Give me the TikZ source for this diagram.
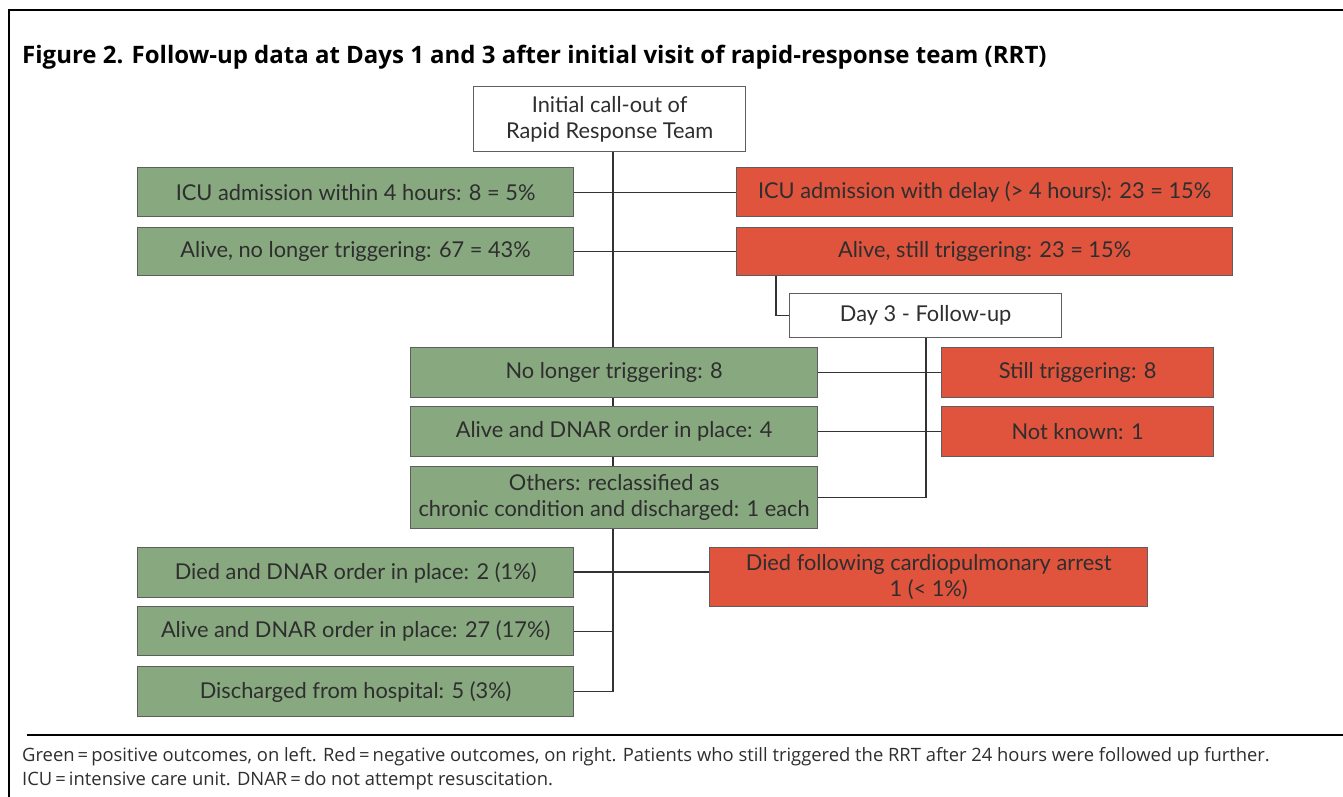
\documentclass[tikz,border=0pt]{standalone}
\usepackage{fontspec}
\setmainfont{Lato}
\newfontfamily\titlefont{Open Sans}
\newfontfamily\capfont{Open Sans}
\usetikzlibrary{backgrounds}
\definecolor{grn}{HTML}{88A880}
\definecolor{rd}{HTML}{E0533D}
\definecolor{bordergray}{HTML}{5E5E5E}
\definecolor{txt}{HTML}{2E2E2E}
\definecolor{ln}{HTML}{333333}
\tikzset{
  box/.style={draw=bordergray, line width=1.3pt, inner sep=0pt, anchor=north west,
    text=txt, align=center, font=\fontsize{21.8}{26}\selectfont},
  gbox/.style={box, fill=grn},
  rbox/.style={box, fill=rd},
  wbox/.style={box, fill=white},
  conn/.style={draw=ln, line width=1.3pt},
  spine/.style={draw=ln, line width=2pt},
  frame/.style={draw=black, line width=2.5pt}
}
\begin{document}
\begin{tikzpicture}[x=1pt,y=-1pt]
\useasboundingbox (0,0) rectangle (1343,797);
% frame
\coordinate (tl) at (9,10);
\coordinate (tr) at (1343,10);
\coordinate (bl) at (9,797);
\coordinate (sepl) at (27,735);
\coordinate (sepr) at (1343,735);
\draw[frame] (tr) -- (tl) -- (bl);
\draw[frame] (sepl) -- (sepr);
% title
\node[anchor=base west, inner sep=0pt, font=\titlefont\bfseries\fontsize{24}{28}\selectfont] (title) at (22,64)
  {Figure 2. Follow-up data at Days 1 and 3 after initial visit of rapid-response team (RRT)};
% caption
\node[anchor=base west, inner sep=0pt, font=\capfont\fontsize{18.4}{22}\selectfont, text=txt] (cap1) at (22,761)
  {Green\,=\,positive outcomes, on left. Red\,=\,negative outcomes, on right. Patients who still triggered the RRT after 24 hours were followed up further.};
\node[anchor=base west, inner sep=0pt, font=\capfont\fontsize{18.4}{22}\selectfont, text=txt] (cap2) at (22,785)
  {ICU\,=\,intensive care unit. DNAR\,=\,do not attempt resuscitation.};
% boxes
\node[wbox, minimum width=272pt, minimum height=65pt] (init) at (473,86) {Initial call-out of\\Rapid Response Team};
\node[gbox, minimum width=436pt, minimum height=49pt] (icu4) at (137,167) {ICU admission within 4 hours: 8 = 5\%};
\node[rbox, minimum width=496pt, minimum height=49pt] (icudel) at (736,167) {ICU admission with delay (> 4 hours): 23 = 15\%};
\node[gbox, minimum width=436pt, minimum height=48pt] (alive) at (137,227) {Alive, no longer triggering: 67 = 43\%};
\node[rbox, minimum width=496pt, minimum height=48pt] (still) at (736,227) {Alive, still triggering: 23 = 15\%};
\node[wbox, minimum width=272pt, minimum height=44pt] (day3) at (789,293) {Day 3 - Follow-up};
\node[gbox, minimum width=407pt, minimum height=50pt] (nolong) at (410,347) {No longer triggering: 8};
\node[rbox, minimum width=272pt, minimum height=50pt] (still8) at (941,347) {Still triggering: 8};
\node[gbox, minimum width=407pt, minimum height=50pt] (dnar4) at (410,406) {Alive and DNAR order in place: 4};
\node[rbox, minimum width=272pt, minimum height=50pt] (notknown) at (941,406) {Not known: 1};
\node[gbox, minimum width=407pt, minimum height=62pt] (others) at (410,466) {Others: reclassified as\\chronic condition and discharged: 1 each};
\node[gbox, minimum width=436pt, minimum height=50pt] (died2) at (137,547) {Died and DNAR order in place: 2 (1\%)};
\node[rbox, minimum width=438pt, minimum height=59pt] (cardio) at (709,547) {Died following cardiopulmonary arrest\\1 (< 1\%)};
\node[gbox, minimum width=436pt, minimum height=49pt] (dnar27) at (137,606) {Alive and DNAR order in place: 27 (17\%)};
\node[gbox, minimum width=436pt, minimum height=50pt] (disch) at (137,666) {Discharged from hospital: 5 (3\%)};
% connectors
\coordinate (sp) at (613,0);
\coordinate (br) at (776,0);
\coordinate (dl) at (0,572);
\begin{scope}[on background layer]
\draw[conn] (icu4.east) -- (icu4.east -| icudel.west);
\draw[conn] (alive.east) -- (alive.east -| still.west);
\draw[conn] (nolong.east) -- (nolong.east -| still8.west);
\draw[conn] (dnar4.east) -- (dnar4.east -| notknown.west);
\draw[conn] (died2.east |- dl) -- (cardio.west |- dl);
\draw[conn] (dnar27.east) -- (dnar27.east -| sp);
\draw[conn] (disch.east) -- (disch.east -| sp);
\draw[conn] (still.south -| br) |- (day3.west);
\draw[conn] (others.east) -- (others.east -| day3.south);
\draw[spine] (init.south -| sp) -- (others.north -| sp);
\draw[spine] (others.south -| sp) -- (disch.east -| sp);
\draw[spine] (day3.south) -- (day3.south |- others.east);
\end{scope}
\end{tikzpicture}
\end{document}
